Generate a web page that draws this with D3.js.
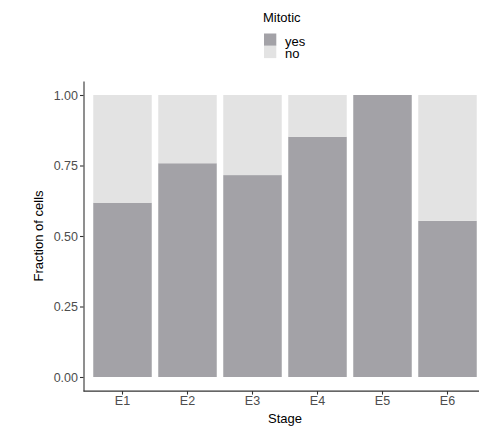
<!DOCTYPE html>
<html><head><meta charset="utf-8">
<script src="https://cdn.jsdelivr.net/npm/d3@7"></script>
<style>body{margin:0;background:#fff}svg{display:block}text{font-family:"Liberation Sans",Arial,sans-serif}</style>
</head><body>
<script>
const stages = ["E1","E2","E3","E4","E5","E6"];
const yesValues = [0.618, 0.758, 0.716, 0.852, 1.0, 0.554];
const seriesNames = ["yes","no"];
const seriesColors = ["#a3a2a7","#e3e3e3"];
const yTicks = [0, 0.25, 0.5, 0.75, 1.0];

const W = 479, H = 428;
const svg = d3.select("body").append("svg").attr("width", W).attr("height", H);

const left = 83.5, step = 65;
const x = d3.scaleBand().domain(stages)
  .range([left, left + step * 6.2]).paddingInner(0.1).paddingOuter(0.15);
const y = d3.scaleLinear().domain([-0.05, 1.05]).range([391.1, 80.9]);

const data = stages.map((s, i) => ({stage: s, yes: yesValues[i], no: 1 - yesValues[i]}));
const stacked = d3.stack().keys(seriesNames)(data);
const color = d3.scaleOrdinal().domain(seriesNames).range(seriesColors);

svg.append("g").selectAll("g").data(stacked).join("g")
  .attr("fill", d => color(d.key))
  .selectAll("rect").data(d => d).join("rect")
  .attr("x", d => x(d.data.stage))
  .attr("width", x.bandwidth())
  .attr("y", d => y(d[1]))
  .attr("height", d => y(d[0]) - y(d[1]));

// axes
const yAxis = svg.append("g").attr("transform", `translate(${left},0)`)
  .call(d3.axisLeft(y).tickValues(yTicks).tickFormat(d3.format(".2f")).tickSize(3.5).tickSizeOuter(0));
const xAxis = svg.append("g").attr("transform", `translate(0,${y(-0.05)})`)
  .call(d3.axisBottom(x).tickSize(3.5).tickSizeOuter(0));
xAxis.select(".domain").attr("d", `M${left},0H${W}`);
[yAxis, xAxis].forEach(a => {
  a.selectAll(".domain").attr("stroke", "#333").attr("stroke-width", 1.1);
  a.selectAll(".tick line").attr("stroke", "#333").attr("stroke-width", 1.1);
  a.selectAll(".tick text").attr("fill", "#4d4d4d").style("font-size", "12.5px");
});
yAxis.selectAll(".tick text").attr("x", -5.5).attr("dy", "0.35em");
xAxis.selectAll(".tick text").attr("y", 5.5).attr("dy", "0.71em");

svg.append("text").attr("x", 285).attr("y", 423).attr("text-anchor", "middle")
  .style("font-size", "13px").attr("fill", "#000").text("Stage");
svg.append("text").attr("transform", "translate(43,236) rotate(-90)").attr("text-anchor", "middle")
  .style("font-size", "13px").attr("fill", "#000").text("Fraction of cells");

// legend
const lg = svg.append("g");
lg.append("text").attr("x", 263).attr("y", 22).style("font-size", "13px").text("Mitotic");
seriesNames.forEach((n, i) => {
  lg.append("rect").attr("x", 264).attr("y", 33.5 + i * 12.3).attr("width", 12.3).attr("height", 12.3)
    .attr("fill", color(n));
  lg.append("text").attr("x", 285).attr("y", 45.5 + i * 12.3).style("font-size", "13px").text(n);
});
</script>
</body></html>
